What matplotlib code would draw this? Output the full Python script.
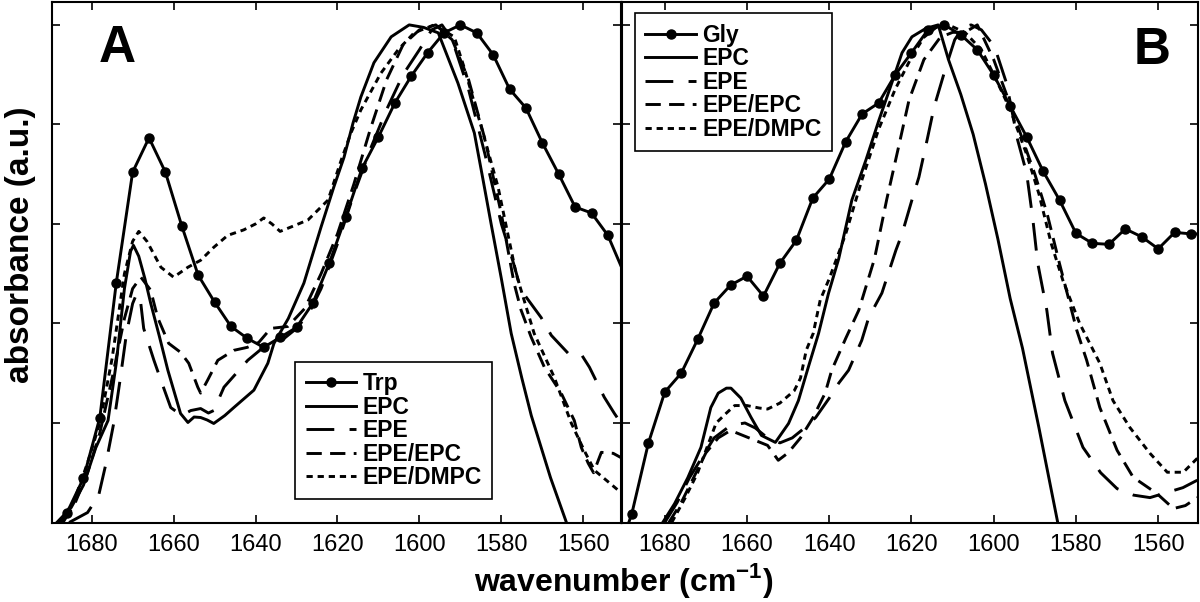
import matplotlib
matplotlib.use('Agg')
import matplotlib.pyplot as plt
import numpy as np

plt.rcParams['font.family'] = ['Liberation Sans', 'DejaVu Sans']
plt.rcParams['mathtext.fontset'] = 'custom'
plt.rcParams['mathtext.rm'] = 'Liberation Sans'
plt.rcParams['mathtext.bf'] = 'Liberation Sans:bold'
plt.rcParams['lines.scale_dashes'] = False

# ---- panel A data (wavenumber, absorbance) ----
trp_wn = [1689, 1686, 1682, 1678, 1674, 1670, 1666, 1662, 1658, 1654, 1650, 1646, 1642, 1638, 1634, 1630,
          1626, 1622, 1618, 1614, 1610, 1606, 1602, 1598, 1594, 1590, 1586, 1582, 1578, 1574, 1570, 1566,
          1562, 1558, 1554, 1550]
trp_abs = [-0.01, 0.02, 0.089, 0.211, 0.481, 0.704, 0.773, 0.704, 0.596, 0.497, 0.443, 0.394, 0.370, 0.352,
           0.372, 0.392, 0.441, 0.521, 0.614, 0.712, 0.775, 0.843, 0.897, 0.944, 0.984, 1.0, 0.984, 0.940,
           0.871, 0.833, 0.763, 0.700, 0.634, 0.622, 0.577, 0.50]

epcA_wn = [1688.5, 1685, 1682, 1679, 1676, 1674, 1672, 1670.5, 1669.8, 1668.5, 1667, 1665.6, 1663.5, 1661.4,
           1658.3, 1656.5, 1655, 1653.4, 1651.8, 1650.2, 1647.5, 1645.3, 1640.4, 1637, 1635.5, 1632, 1628.2,
           1624, 1620.9, 1618.4, 1616.2, 1614.3, 1611.1, 1606.9, 1602.5, 1599, 1595.4, 1590.6, 1586.6,
           1584.5, 1582.5, 1580, 1577.6, 1575, 1572.7, 1568, 1563.9]
epcA_abs = [0.0, 0.03, 0.075, 0.15, 0.205, 0.32, 0.47, 0.545, 0.557, 0.535, 0.49, 0.441, 0.375, 0.306,
            0.219, 0.201, 0.212, 0.211, 0.206, 0.199, 0.215, 0.231, 0.266, 0.320, 0.36, 0.41, 0.481,
            0.594, 0.674, 0.734, 0.803, 0.855, 0.924, 0.976, 1.0, 0.995, 0.984, 0.883, 0.783,
            0.69, 0.60, 0.49, 0.38, 0.29, 0.215, 0.09, -0.005]

epeA_wn = [1685.5, 1681, 1678.3, 1676.6, 1674.6, 1673, 1671.5, 1670, 1669, 1668, 1667.3, 1664.8, 1663.1,
           1660.7, 1658, 1655.8, 1653.4, 1651.5, 1650.2, 1647.7, 1641.9, 1637.5, 1633, 1630, 1627, 1624,
           1620, 1616, 1612, 1608, 1604, 1600, 1597, 1594.5, 1592, 1588, 1584, 1580, 1577, 1575.2, 1570.3,
           1567.8, 1563.7, 1560.5, 1558.5, 1554.9, 1552.4, 1550]
epeA_abs = [0.0, 0.02, 0.054, 0.115, 0.2, 0.29, 0.38, 0.44, 0.46, 0.44, 0.39, 0.326, 0.286,
            0.231, 0.215, 0.225, 0.229, 0.22, 0.225, 0.272, 0.326, 0.356, 0.37, 0.39, 0.42, 0.47,
            0.56, 0.66, 0.75, 0.83, 0.90, 0.95, 0.99, 1.0, 0.97, 0.87, 0.74, 0.60, 0.52, 0.467, 0.412,
            0.376, 0.34, 0.338, 0.312, 0.252, 0.219, 0.19]

epe_epcA_wn = [1687, 1684, 1681, 1678, 1675, 1672, 1670, 1668, 1665.6, 1663.9, 1661.2, 1658.3, 1656.3, 1654.1,
               1653.4, 1651.7, 1649.2, 1645.3, 1642, 1639.2, 1636.3, 1632.1, 1628, 1624, 1620, 1616, 1612,
               1608, 1604, 1600, 1596, 1592, 1588, 1584, 1580, 1576.9, 1575.2, 1572.7, 1569.5, 1565.4,
               1562.2, 1560.5, 1558.8, 1557.5, 1555.6, 1552.7, 1550.5]
epe_epcA_abs = [0.0, 0.04, 0.10, 0.18, 0.29, 0.41, 0.47, 0.493, 0.467, 0.412, 0.36, 0.342, 0.32, 0.272,
                0.26, 0.286, 0.326, 0.346, 0.352, 0.362, 0.39, 0.394, 0.43, 0.50, 0.58, 0.68, 0.79,
                0.89, 0.96, 0.99, 1.0, 0.97, 0.89, 0.77, 0.62, 0.481, 0.427, 0.372, 0.312, 0.26,
                0.205, 0.151, 0.119, 0.10, 0.141, 0.139, 0.129]

epe_dmpcA_wn = [1687.5, 1684, 1681, 1678, 1675, 1672, 1670, 1668.5, 1666.5, 1663.1, 1660, 1656.5, 1653.4,
                1650.2, 1646.8, 1642.9, 1640, 1638, 1636, 1634, 1631, 1627.2, 1622.3, 1619.1, 1616.7,
                1614.3, 1609.4, 1605.2, 1601.3, 1596.4, 1591.5, 1589.1, 1584.9, 1580.8, 1576.4, 1572,
                1567.1, 1562.9, 1559.8, 1557.3, 1554.4, 1550.5]
epe_dmpcA_abs = [0.0, 0.05, 0.12, 0.2, 0.33, 0.50, 0.565, 0.585, 0.565, 0.513, 0.493, 0.513, 0.527,
                 0.553, 0.577, 0.588, 0.60, 0.612, 0.60, 0.585, 0.595, 0.608, 0.648, 0.728, 0.783,
                 0.829, 0.903, 0.950, 0.984, 1.0, 0.976, 0.915, 0.795, 0.674, 0.50, 0.38,
                 0.292, 0.199, 0.145, 0.105, 0.085, 0.058]

# ---- panel B data ----
gly_wn = [1690, 1688, 1684, 1680, 1676, 1672, 1668, 1664, 1660, 1656, 1652, 1648, 1644, 1640, 1636, 1632,
          1628, 1624, 1620, 1616, 1612, 1608, 1604, 1600, 1596, 1592, 1588, 1584, 1580, 1576, 1572, 1568,
          1564, 1560, 1556, 1552, 1550]
gly_abs = [-0.03, 0.018, 0.159, 0.262, 0.300, 0.368, 0.441, 0.477, 0.495, 0.455, 0.521, 0.567, 0.652,
           0.690, 0.765, 0.821, 0.843, 0.899, 0.944, 0.990, 1.0, 0.980, 0.950, 0.899, 0.837, 0.775,
           0.706, 0.648, 0.581, 0.561, 0.559, 0.590, 0.574, 0.550, 0.583, 0.580, 0.58]

epcB_wn = [1680.5, 1677.6, 1674.4, 1671.2, 1668.8, 1667, 1665, 1663.9, 1661.5, 1659, 1656.5, 1653.1, 1649.9,
           1647.5, 1645.1, 1642.6, 1640.2, 1637.7, 1634.5, 1631.1, 1627.9, 1624.8, 1622.3, 1619.9,
           1616.5, 1613.5, 1611, 1608, 1605, 1602, 1599, 1596, 1593, 1589, 1584.2]
epcB_abs = [0.0, 0.038, 0.090, 0.151, 0.231, 0.260, 0.27, 0.270, 0.25, 0.211, 0.175, 0.161, 0.199,
            0.245, 0.312, 0.380, 0.46, 0.53, 0.648, 0.728, 0.809, 0.883, 0.944, 0.976,
            0.993, 1.0, 0.93, 0.86, 0.78, 0.68, 0.57, 0.45, 0.35, 0.19, -0.01]

epeB_wn = [1680, 1677, 1674, 1671, 1668, 1664, 1660.5, 1658, 1655, 1652, 1649, 1646, 1643.3, 1640, 1637.7,
           1635.3, 1632.1, 1630.4, 1627.2, 1623.8, 1622.3, 1619.9, 1618.2, 1616.2, 1614.5, 1611.6, 1609.5,
           1607.5, 1605.5, 1603, 1599.8, 1596.9, 1594.2, 1592, 1590.5, 1589.3, 1587.1, 1585.7, 1582.7,
           1578.3, 1574, 1570, 1566, 1562, 1558, 1554, 1550.5]
epeB_abs = [0.0, 0.04, 0.09, 0.13, 0.17, 0.195, 0.20, 0.19, 0.17, 0.16, 0.17, 0.19, 0.211, 0.25, 0.28,
            0.306, 0.366, 0.412, 0.461, 0.547, 0.58, 0.648, 0.694, 0.769, 0.835, 0.916, 0.97,
            0.995, 1.0, 0.99, 0.956, 0.883, 0.769, 0.702, 0.61, 0.521, 0.427, 0.340, 0.245,
            0.151, 0.10, 0.068, 0.055, 0.05, 0.06, 0.07, 0.085]

epe_epcB_wn = [1679, 1676, 1673, 1670, 1667, 1664, 1661, 1658, 1655, 1652.4, 1650, 1647, 1644, 1641, 1639.4,
               1636, 1632.8, 1629, 1626, 1623, 1620.6, 1617, 1613, 1610, 1607, 1604, 1600, 1596, 1593, 1590,
               1587, 1584, 1579.8, 1577.4, 1574.2, 1570, 1566.1, 1560.3, 1556.3, 1553.4, 1550.5]
epe_epcB_abs = [0.0, 0.04, 0.09, 0.14, 0.17, 0.185, 0.175, 0.165, 0.155, 0.125, 0.14, 0.17, 0.21, 0.26, 0.306,
                0.37, 0.427, 0.53, 0.65, 0.76, 0.849, 0.93, 0.975, 0.985, 0.985, 1.0, 0.93, 0.84, 0.77, 0.70,
                0.62, 0.52, 0.386, 0.326, 0.231, 0.145, 0.091, 0.058, 0.028, 0.034, 0.05]

epe_dmpcB_wn = [1678.3, 1675, 1672, 1670, 1667.5, 1665, 1663, 1660, 1657, 1655, 1652, 1648.5, 1647, 1645.6,
                1643.9, 1642.2, 1640, 1636, 1632, 1628, 1624, 1620, 1617, 1614, 1611, 1607, 1603, 1600,
                1596, 1592, 1589, 1586, 1583.2, 1579.1, 1574.2, 1571, 1566.9, 1562, 1557.8, 1553.9, 1550.5]
epe_dmpcB_abs = [0.0, 0.05, 0.10, 0.145, 0.2, 0.22, 0.235, 0.235, 0.23, 0.228, 0.24, 0.265, 0.29, 0.346,
                 0.38, 0.447, 0.49, 0.58, 0.69, 0.79, 0.87, 0.935, 0.975, 0.995, 1.0, 0.985, 0.95, 0.90,
                 0.83, 0.74, 0.66, 0.56, 0.487, 0.400, 0.320, 0.245, 0.191, 0.139, 0.101, 0.101, 0.129]

labels_A = ['Trp', 'EPC', 'EPE', 'EPE/EPC', 'EPE/DMPC']
labels_B = ['Gly', 'EPC', 'EPE', 'EPE/EPC', 'EPE/DMPC']
xticks = [1680, 1660, 1640, 1620, 1600, 1580, 1560]

LW = 2.1
styles = ['-', '-', (0, (20, 11)), (0, (11, 6)), (0, (4.5, 3.5))]


def draw_panel(ax, curves, labels, xlim, leg_anchor):
    for (wn, ab), lab, ls in zip(curves, labels, styles):
        if lab in ('Trp', 'Gly'):
            ax.plot(wn, ab, color='black', lw=LW, ls=ls, marker='o', markersize=6.5,
                    markevery=slice(1, -1), label=lab)
        else:
            ax.plot(wn, ab, color='black', lw=LW, ls=ls, label=lab)

    ax.set_xlim(*xlim)
    ax.set_ylim(0, 1.047)
    ax.set_xticks(xticks)
    ax.set_yticks([0, 0.2, 0.4, 0.6, 0.8, 1.0])
    ax.tick_params(direction='in', length=6, width=1.2, top=True, right=True,
                   labelleft=False, labelsize=17, pad=8)
    for t in ax.get_xticklabels():
        t.set_family(['Liberation Sans Narrow', 'Liberation Sans', 'DejaVu Sans'])
    for s in ax.spines.values():
        s.set_linewidth(1.5)

    leg = ax.legend(loc='upper left', bbox_to_anchor=leg_anchor, borderaxespad=0,
                    prop={'weight': 'bold', 'size': 16.5}, handlelength=2.2, handletextpad=0.3,
                    labelspacing=0.02, borderpad=0.45, fancybox=False, framealpha=1,
                    edgecolor='black', numpoints=1)
    leg.get_frame().set_linewidth(1.2)


fig = plt.figure(figsize=(12, 6.02), dpi=100)
axA = fig.add_axes([51.5 / 1200, 79.5 / 602, 569.5 / 1200, 521 / 602])
axB = fig.add_axes([622 / 1200, 79.5 / 602, 575.7 / 1200, 521 / 602])

curvesA = [(trp_wn, trp_abs), (epcA_wn, epcA_abs), (epeA_wn, epeA_abs),
           (epe_epcA_wn, epe_epcA_abs), (epe_dmpcA_wn, epe_dmpcA_abs)]
curvesB = [(gly_wn, gly_abs), (epcB_wn, epcB_abs), (epeB_wn, epeB_abs),
           (epe_epcB_wn, epe_epcB_abs), (epe_dmpcB_wn, epe_dmpcB_abs)]

draw_panel(axA, curvesA, labels_A, (1689.8, 1550.8), (0.428, 0.308))
draw_panel(axB, curvesB, labels_B, (1690.4, 1550.4), (0.0226, 0.977))

fig.text(117 / 1200, 1 - 48 / 602, 'A', fontsize=37, weight='bold', ha='center', va='center')
fig.text(1152 / 1200, 1 - 50 / 602, 'B', fontsize=37, weight='bold', ha='center', va='center')

fig.text(624 / 1200, 1 - 580 / 602, r'wavenumber (cm$^{\mathbf{-1}}$)', fontsize=23, weight='bold',
         ha='center', va='center')
fig.text(21 / 1200, 1 - 245 / 602, 'absorbance (a.u.)', fontsize=24, weight='bold', rotation=90,
         ha='center', va='center')

plt.savefig('out.png', dpi=100)
